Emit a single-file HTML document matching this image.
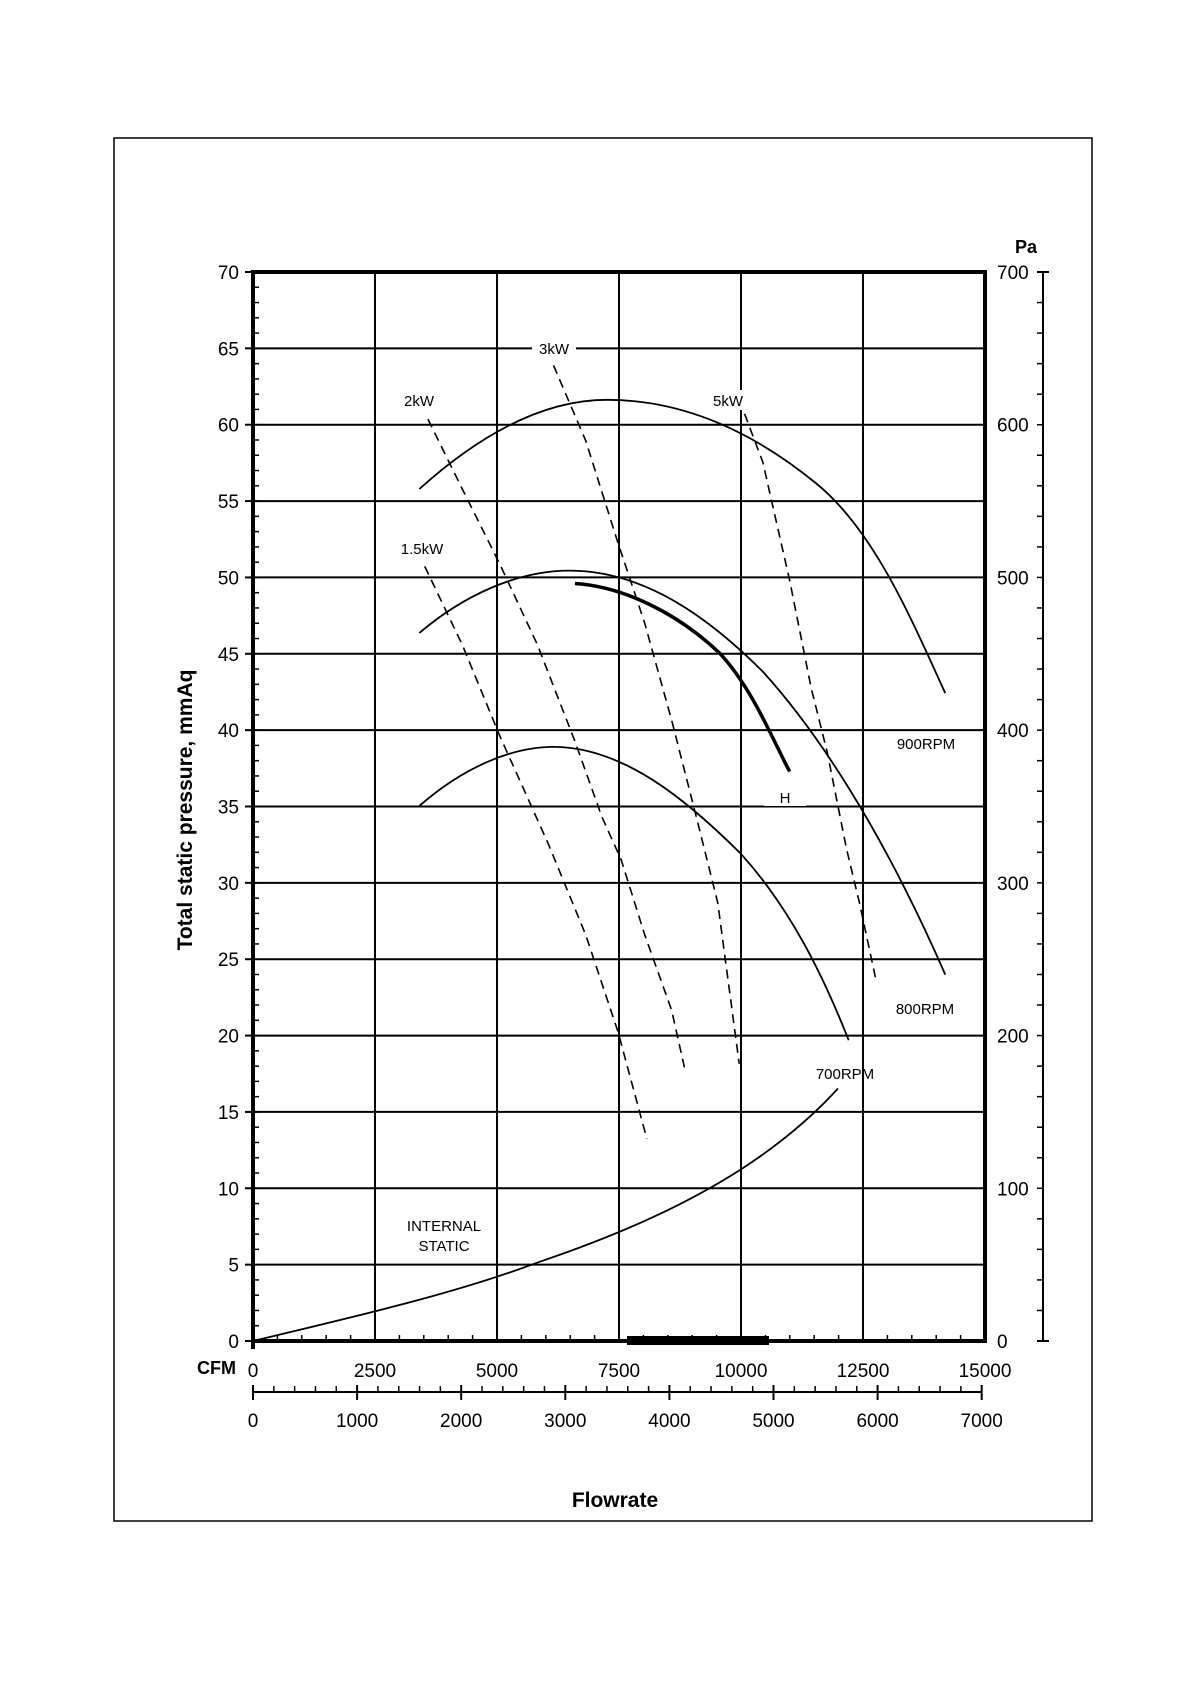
<!DOCTYPE html>
<html><head><meta charset="utf-8"><style>
html,body{margin:0;padding:0;background:#fff;}
svg{display:block;}
text{font-family:"Liberation Sans",Arial,sans-serif;fill:#000;}
</style></head><body>
<svg id="s" width="1190" height="1684" viewBox="0 0 1190 1684" xmlns="http://www.w3.org/2000/svg">
<rect x="114" y="138" width="978" height="1383" fill="none" stroke="#000" stroke-width="1.5"/>
<g id="grid" stroke="#000"></g>
<g fill="none" stroke="#000" stroke-width="1.8" transform="translate(253,1341) scale(1.0733,1.0744) translate(-235,-1248)">
<path vector-effect="non-scaling-stroke" d="M390,455 C440,410 500,372 565,372 C640,372 705,405 760,450 S850,580 880,645"/>
<path vector-effect="non-scaling-stroke" d="M390,589 C430,555 480,531 530,531 C600,531 660,575 710,625 C760,680 820,770 880,907"/>
<path vector-effect="non-scaling-stroke" d="M390,750 C430,715 475,695 515,695 C580,695 640,745 690,795 C735,845 765,905 790,968"/>
<path vector-effect="non-scaling-stroke" stroke-width="3.5" d="M535,543 C580,546 630,570 670,608 C700,640 720,690 735,718"/>
<path vector-effect="non-scaling-stroke" d="M235,1248 C330,1225 420,1205 500,1175 C580,1148 640,1120 690,1088 C730,1062 760,1035 780,1013"/>
<g stroke-dasharray="9,6" stroke-width="1.6">
<path vector-effect="non-scaling-stroke" d="M398,390 L430,455 L465,525 L500,600 L535,690 L560,760 L578,800 L600,870 L625,940 L638,998"/>
<path vector-effect="non-scaling-stroke" d="M395,527 L430,600 L465,685 L510,785 L545,870 L575,960 L602,1060"/>
<path vector-effect="non-scaling-stroke" d="M515,340 L545,410 L575,505 L600,580 L625,670 L648,760 L668,840 L688,990"/>
<path vector-effect="non-scaling-stroke" d="M693,385 L710,430 L735,540 L755,640 L770,700 L788,790 L800,840 L815,910"/>
</g>
</g>
<rect x="532" y="338" width="44" height="20" fill="#fff"/>
<rect x="764" y="786" width="42" height="20" fill="#fff"/>
<rect x="704" y="390" width="48" height="20" fill="#fff"/>
<g font-size="15" text-anchor="middle">
<text x="554" y="354">3kW</text>
<text x="419" y="406">2kW</text>
<text x="728" y="406">5kW</text>
<text x="422" y="554">1.5kW</text>
<text x="926" y="749">900RPM</text>
<text x="785" y="803">H</text>
<text x="925" y="1014">800RPM</text>
<text x="845" y="1079">700RPM</text>
<text x="444" y="1231">INTERNAL</text>
<text x="444" y="1251">STATIC</text>
</g>
<rect x="627" y="1336" width="142" height="9" fill="#000"/>
<g id="labels" font-size="19"></g>
<text x="0" y="0" font-size="21" font-weight="bold" text-anchor="middle" transform="translate(192,810) rotate(-90)">Total static pressure, mmAq</text>
<text x="615" y="1514" font-size="21" font-weight="bold" text-anchor="middle" dy="-7">Flowrate</text>
<text x="1026" y="253" font-size="18" font-weight="bold" text-anchor="middle">Pa</text>
<text x="236" y="1374" font-size="18" font-weight="bold" text-anchor="end">CFM</text>
</svg>
<script>
var NS="http://www.w3.org/2000/svg",g=document.getElementById('grid'),L=document.getElementById('labels');
function ln(x1,y1,x2,y2,w){var e=document.createElementNS(NS,'line');e.setAttribute('x1',x1);e.setAttribute('y1',y1);e.setAttribute('x2',x2);e.setAttribute('y2',y2);e.setAttribute('stroke-width',w);g.appendChild(e);}
function tx(x,y,s,a){var e=document.createElementNS(NS,'text');e.setAttribute('x',x);e.setAttribute('y',y);e.setAttribute('text-anchor',a);e.textContent=s;L.appendChild(e);}
var X0=253,X1=985,Y0=1341,Y1=272,dy=(Y0-Y1)/14;
for(var k=1;k<14;k++){var y=Y0-k*dy;ln(X0,y,X1,y,2);}
for(var i=1;i<6;i++){var x=X0+i*122;ln(x,Y1,x,Y0,2);}
for(var k=0;k<=70;k++){var y=Y0-k*dy/5;ln(X0,y,X0+6,y,1.5);}
for(var k=0;k<=14;k++){var y=Y0-k*dy;ln(X0-8,y,X0,y,2);tx(X0-14,y+7,String(k*5),'end');if(k%2==0)tx(997,y+7,String(k*50),'start');}
for(var k=0;k<=35;k++){var y=Y0-k*dy*0.4;ln(1037,y,1043,y,1.5);}
ln(1043,Y1,1043,Y0,2);ln(1037,Y1,1049,Y1,2);ln(1037,Y0,1049,Y0,2);
for(var i=0;i<=30;i++){var x=X0+i*24.4;ln(x,Y0-6,x,Y0,1.5);}
for(var i=0;i<=6;i++){var x=X0+i*122;tx(x,1377,String(i*2500),'middle');}
ln(X0,1392,X0+7*104.1,1392,2);
for(var i=0;i<=35;i++){var x=X0+i*20.82;var big=i%5==0;ln(x,big?1385:1386,x,big?1400:1392,big?2:1.5);}
for(var i=0;i<=7;i++){tx(X0+i*104.1,1427,String(i*1000),'middle');}
ln(X0,Y1,X0,Y0+8,4);ln(X1,Y1,X1,Y0,4);ln(X0-2,Y1,X1+2,Y1,4);ln(X0-2,Y0,X1+2,Y0,4);
</script>
</body></html>
